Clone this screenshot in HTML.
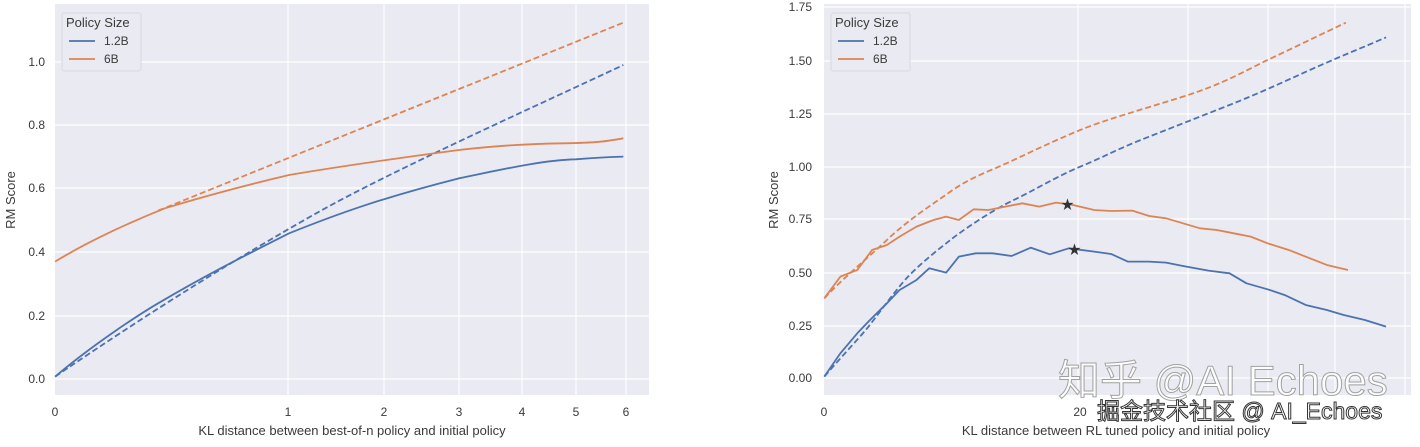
<!DOCTYPE html>
<html><head><meta charset="utf-8"><style>
html,body{margin:0;padding:0;background:#fff;}
svg text{font-family:"Liberation Sans","Noto Sans CJK SC",sans-serif;fill:#3a3a3a;}
.g{stroke:#fff;stroke-width:1.2;}
.l{fill:none;stroke-width:1.8;vector-effect:non-scaling-stroke;stroke-linejoin:round;}
.d{stroke-dasharray:6 3;}
.b{stroke:#4c72b0;} .o{stroke:#dd8452;}
</style></head><body>
<svg width="1420" height="442" xmlns="http://www.w3.org/2000/svg">
<!-- LEFT -->
<rect x="55" y="4" width="594" height="391" fill="#eaeaf2"/>
<g class="g">
<line x1="55" y1="62" x2="649" y2="62"/><line x1="55" y1="125" x2="649" y2="125"/><line x1="55" y1="188" x2="649" y2="188"/><line x1="55" y1="252" x2="649" y2="252"/><line x1="55" y1="316" x2="649" y2="316"/><line x1="55" y1="379" x2="649" y2="379"/>
<line x1="288" y1="4" x2="288" y2="395"/><line x1="384" y1="4" x2="384" y2="395"/><line x1="459" y1="4" x2="459" y2="395"/><line x1="522" y1="4" x2="522" y2="395"/><line x1="576" y1="4" x2="576" y2="395"/><line x1="626" y1="4" x2="626" y2="395"/>
</g>
<g font-size="12" text-anchor="end">
<text x="45" y="66">1.0</text><text x="45" y="129">0.8</text><text x="45" y="192">0.6</text><text x="45" y="256">0.4</text><text x="45" y="320">0.2</text><text x="45" y="383">0.0</text>
</g>
<g font-size="12" text-anchor="middle">
<text x="55" y="416">0</text><text x="288" y="416">1</text><text x="384" y="416">2</text><text x="459" y="416">3</text><text x="522" y="416">4</text><text x="576" y="416">5</text><text x="626" y="416">6</text>
<text x="352" y="435" font-size="13">KL distance between best-of-n policy and initial policy</text>
<text transform="translate(15,200) rotate(-90)" font-size="13">RM Score</text>
</g>
<g transform="scale(0.4517,0.3333)">
<path class="l o d" d="M350,632 L1380,68"/>
<path class="l b d" d="M122,1130 C350,920 530,770 700,640 S1200,310 1380,195"/>
<path class="l o" d="M122,785 C200,720 300,660 365,625 C450,590 530,560 640,525 C750,500 850,480 1016,450 C1100,438 1155,432 1250,430 C1320,428 1340,425 1380,415"/>
<path class="l b" d="M122,1130 C200,1040 300,950 350,910 C450,830 530,775 640,700 C750,640 850,592 1016,535 C1100,512 1200,480 1275,478 C1330,472 1380,470 1380,470"/>
</g>
<rect x="62" y="13" width="79" height="58" fill="#eaeaf2" stroke="#d8d8e0" rx="2"/>
<text x="66" y="27" font-size="13">Policy Size</text>
<line x1="69" y1="41" x2="95" y2="41" stroke="#4c72b0" stroke-width="1.8"/><text x="104" y="45" font-size="12">1.2B</text>
<line x1="69" y1="59" x2="95" y2="59" stroke="#dd8452" stroke-width="1.8"/><text x="104" y="63" font-size="12">6B</text>

<!-- RIGHT -->
<rect x="824" y="4" width="587" height="391" fill="#eaeaf2"/>
<g class="g">
<line x1="824" y1="7" x2="1411" y2="7"/><line x1="824" y1="61" x2="1411" y2="61"/><line x1="824" y1="114" x2="1411" y2="114"/><line x1="824" y1="167" x2="1411" y2="167"/><line x1="824" y1="219" x2="1411" y2="219"/><line x1="824" y1="273" x2="1411" y2="273"/><line x1="824" y1="326" x2="1411" y2="326"/><line x1="824" y1="378" x2="1411" y2="378"/>
<line x1="1078" y1="4" x2="1078" y2="395"/><line x1="1188" y1="4" x2="1188" y2="395"/><line x1="1268" y1="4" x2="1268" y2="395"/><line x1="1335" y1="4" x2="1335" y2="395"/><line x1="1405" y1="4" x2="1405" y2="395"/>
</g>
<g font-size="12" text-anchor="end">
<text x="812" y="11">1.75</text><text x="812" y="65">1.50</text><text x="812" y="118">1.25</text><text x="812" y="171">1.00</text><text x="812" y="223">0.75</text><text x="812" y="277">0.50</text><text x="812" y="330">0.25</text><text x="812" y="382">0.00</text>
</g>
<g font-size="12" text-anchor="middle">
<text x="824" y="416">0</text><text x="1080" y="416">20</text>
<text x="1116" y="435" font-size="13">KL distance between RL tuned policy and initial policy</text>
<text transform="translate(778,200) rotate(-90)" font-size="13">RM Score</text>
</g>
<g transform="translate(760,0) scale(0.4230,0.3333)">
<path class="l o d" d="M152,895 C200,830 250,780 300,720 S400,620 450,575 S550,510 600,480 S700,420 757,390 S900,330 1000,290 S1150,210 1200,180 S1340,95 1385,68"/>
<path class="l b d" d="M152,1130 C200,1060 230,1020 250,990 S320,870 350,830 S420,750 450,720 S550,630 600,600 S700,530 757,500 S850,445 900,420 S1020,360 1100,320 S1230,250 1300,210 S1430,140 1480,112"/>
<path class="l o" d="M152,895 L190,830 L230,810 L265,750 L300,735 L330,710 L370,680 L410,660 L440,650 L470,660 L505,628 L540,630 L580,620 L620,610 L660,620 L700,608 L740,615 L790,630 L830,633 L880,632 L920,648 L960,655 L1000,670 L1040,685 L1080,690 L1120,700 L1160,710 L1200,730 L1250,750 L1300,775 L1340,795 L1390,810"/>
<path class="l b" d="M152,1130 L190,1060 L230,1000 L260,960 L300,910 L330,870 L370,840 L400,805 L440,818 L470,770 L510,760 L550,760 L595,768 L640,743 L685,763 L730,745 L790,755 L830,762 L870,785 L920,785 L960,788 L1000,798 L1060,812 L1110,820 L1150,850 L1200,868 L1240,885 L1290,915 L1340,930 L1380,945 L1430,960 L1480,980"/>
</g>
<text x="1061" y="209" font-size="13" style="fill:#333">★</text>
<text x="1068" y="254" font-size="13" style="fill:#333">★</text>
<rect x="831" y="13" width="79" height="58" fill="#eaeaf2" stroke="#d8d8e0" rx="2"/>
<text x="835" y="27" font-size="13">Policy Size</text>
<line x1="838" y1="41" x2="864" y2="41" stroke="#4c72b0" stroke-width="1.8"/><text x="873" y="45" font-size="12">1.2B</text>
<line x1="838" y1="59" x2="864" y2="59" stroke="#dd8452" stroke-width="1.8"/><text x="873" y="63" font-size="12">6B</text>

<!-- watermarks -->
<text x="1058" y="395" font-size="42" style="fill:#fff;stroke:#9a9a9a;stroke-width:1;opacity:0.9">知乎 @AI Echoes</text>
<text x="1097" y="419" font-size="23" style="fill:#fff;stroke:#333;stroke-width:1">掘金技术社区 @ AI_Echoes</text>
</svg>
</body></html>
